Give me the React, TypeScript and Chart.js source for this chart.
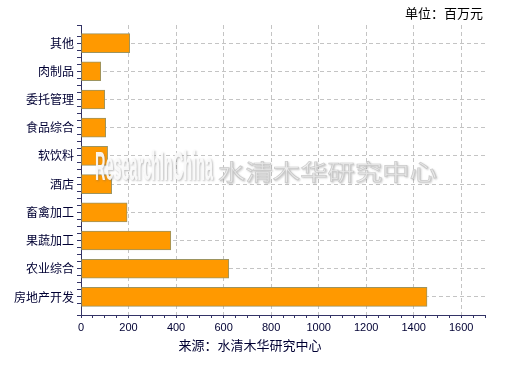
import React, { useEffect, useRef } from "react";
import { Chart, registerables } from "chart.js";

Chart.register(...registerables);

const categories = ["其他", "肉制品", "委托管理", "食品综合", "软饮料", "酒店", "畜禽加工", "果蔬加工", "农业综合", "房地产开发"];
const values = [205, 83, 100, 104, 112, 129, 194, 378, 622, 1456];
const xTickLabels = [0, 200, 400, 600, 800, 1000, 1200, 1400, 1600];
const unitText = "单位：百万元";
const sourceText = "来源：水清木华研究中心";
const watermarkLatin = "ResearchInChina";
const watermarkCJK = "水清木华研究中心";

const AXIS = "#333366";
const TEXT = "#000033";
const GRID = "#c4c4c4";

const isInt = (v: number) => Math.abs(v - Math.round(v)) < 1e-6;

const textPlugin = {
  id: "texts",
  afterDatasetsDraw(chart: any) {
    const ctx = chart.ctx as CanvasRenderingContext2D;
    const ca = chart.chartArea;
    ctx.save();
    ctx.font = 'bold 40px "Liberation Sans Narrow", "Liberation Sans", sans-serif';
    const w = ctx.measureText(watermarkLatin).width;
    ctx.translate(ca.left + 14, ca.top + 155);
    ctx.scale(118 / w, 1);
    ctx.shadowColor = "rgba(110,110,110,0.5)";
    ctx.shadowBlur = 2;
    ctx.shadowOffsetX = 1;
    ctx.shadowOffsetY = 1;
    ctx.fillStyle = "rgba(252,252,252,0.92)";
    ctx.textBaseline = "alphabetic";
    ctx.fillText(watermarkLatin, 0, 0);
    ctx.restore();

    ctx.save();
    ctx.font = '30px "Noto Sans CJK SC", sans-serif';
    const w2 = ctx.measureText(watermarkCJK).width;
    ctx.translate(ca.left + 137, ca.top + 155);
    ctx.scale(219 / w2, 0.72);
    ctx.shadowColor = "rgba(120,120,120,0.35)";
    ctx.shadowBlur = 2;
    ctx.shadowOffsetX = 1;
    ctx.shadowOffsetY = 1;
    ctx.fillStyle = "rgba(250,250,250,0.92)";
    ctx.strokeStyle = "rgba(195,195,195,0.85)";
    ctx.lineWidth = 1;
    ctx.textBaseline = "alphabetic";
    ctx.fillText(watermarkCJK, 0, 0);
    ctx.strokeText(watermarkCJK, 0, 0);
    ctx.restore();
  },
  afterDraw(chart: any) {
    const ctx = chart.ctx as CanvasRenderingContext2D;
    ctx.save();
    ctx.font = '13px "Noto Sans CJK SC", sans-serif';
    ctx.fillStyle = "#000000";
    ctx.textBaseline = "middle";
    ctx.textAlign = "right";
    ctx.fillText(unitText, 483, 13);
    ctx.fillStyle = TEXT;
    ctx.textAlign = "center";
    ctx.fillText(sourceText, 250, 345);
    ctx.restore();
  },
};

export default function App() {
  const ref = useRef<HTMLCanvasElement>(null);
  useEffect(() => {
    if (!ref.current) return;
    const chart = new Chart(ref.current, {
      type: "bar",
      data: {
        datasets: [
          {
            data: categories.map((c, i) => ({ x: values[i], y: i })),
            backgroundColor: "#FF9900",
            borderColor: "#9c9460",
            borderWidth: 1,
            borderSkipped: false,
            barThickness: 19,
          },
        ],
      },
      options: {
        indexAxis: "y",
        animation: false,
        responsive: false,
        maintainAspectRatio: false,
        layout: { padding: { top: 25, right: 27, left: 0, bottom: 0 } },
        plugins: {
          legend: { display: false },
          tooltip: { enabled: false },
          title: { display: false },
        },
        scales: {
          x: {
            type: "linear",
            min: 0,
            max: 1700,
            ticks: {
              stepSize: 50,
              autoSkip: false,
              maxRotation: 0,
              padding: 3,
              color: TEXT,
              font: { family: '"Liberation Sans", sans-serif', size: 11 },
              callback: (v: any) => (xTickLabels.includes(Number(v)) ? String(v) : ""),
            },
            grid: {
              color: (c: any) => (c.tick && isInt(c.tick.value / 200) && c.tick.value !== 0 ? GRID : "rgba(0,0,0,0)"),
              tickColor: AXIS,
              tickLength: 3,
              lineWidth: 1,
            },
            border: { display: true, color: AXIS, width: 1, dash: [4, 3] },
            afterFit: (s: any) => {
              s.height = 52;
              s.paddingLeft = 0;
              s.paddingRight = 0;
            },
          },
          y: {
            type: "linear",
            reverse: true,
            offset: false,
            min: -0.64,
            max: 9.64,
            ticks: {
              stepSize: 0.25,
              autoSkip: false,
              padding: 3,
              color: TEXT,
              font: { family: '"Noto Sans CJK SC", sans-serif', size: 12 },
              callback: (v: any) => {
                const n = Number(v);
                if (!isInt(n)) return "";
                const k = Math.round(n);
                return k >= 0 && k < categories.length ? categories[k] : "";
              },
            },
            grid: {
              offset: false,
              color: (c: any) =>
                c.tick && isInt(c.tick.value) && c.tick.value >= 0 && c.tick.value < categories.length ? GRID : "rgba(0,0,0,0)",
              tickColor: AXIS,
              tickLength: 4,
              lineWidth: 1,
            },
            border: { display: true, color: AXIS, width: 1, dash: [4, 3] },
            afterFit: (s: any) => {
              s.width = 81;
              s.paddingTop = 0;
              s.paddingBottom = 0;
            },
          },
        },
      },
      plugins: [textPlugin],
    });
    return () => chart.destroy();
  }, []);
  return (
    <div style={{ position: "fixed", left: 0, top: 0, width: 512, height: 367, background: "#ffffff" }}>
      <canvas ref={ref} width={512} height={367} />
    </div>
  );
}
